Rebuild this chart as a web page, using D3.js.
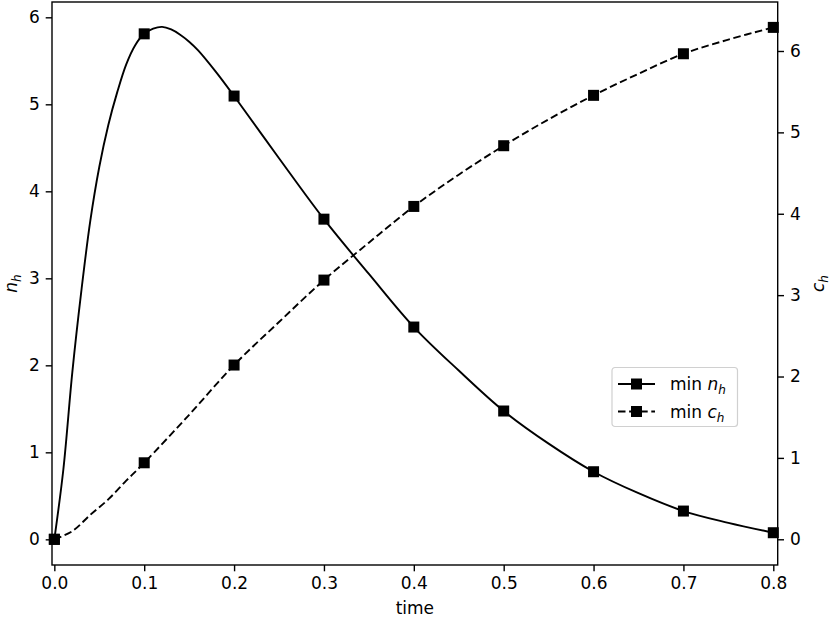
<!DOCTYPE html>
<html>
<head>
<meta charset="utf-8">
<script src="https://cdn.jsdelivr.net/npm/d3@7"></script>
<style>
	body{margin:0;background:#fff;}
	svg{display:block;font-family:'DejaVu Sans',sans-serif;}
	.axis text{font-size:17px;fill:#000;font-family:'DejaVu Sans',sans-serif;}
	.axis path,.axis line{stroke:#000;}
</style>
</head>
<body>
<svg id="chart" width="830" height="623"></svg>
<script>
/* values */
const nTime = [0,0.01,0.02,0.03,0.04,0.05,0.06,0.07,0.08,0.09,0.1,0.11,0.12,0.13,0.14,0.15,0.16,0.18,0.2,0.25,0.3,0.35,0.4,0.45,0.5,0.55,0.6,0.65,0.7,0.75,0.8]
const nVal  = [0,0.80,1.92,2.85,3.66,4.28,4.76,5.14,5.46,5.68,5.81,5.87,5.89,5.86,5.80,5.72,5.62,5.37,5.095,4.38,3.68,3.05,2.44,1.94,1.475,1.10,0.777,0.53,0.325,0.19,0.076]

const cTime = [0,0.02,0.04,0.06,0.08,0.1,0.15,0.2,0.25,0.3,0.35,0.4,0.45,0.5,0.55,0.6,0.65,0.7,0.75,0.8]
const cVal  = [0,0.10,0.30,0.49,0.72,0.94,1.53,2.141,2.67,3.185,3.645,4.09,4.48,4.836,5.16,5.455,5.72,5.966,6.14,6.29]

const markTimes = [0,0.1,0.2,0.3,0.4,0.5,0.6,0.7,0.8]
const xTicks = [0,0.1,0.2,0.3,0.4,0.5,0.6,0.7,0.8]
const nTicks = [0,1,2,3,4,5,6]
const cTicks = [0,1,2,3,4,5,6]

let margin = {top:2,left:52,right:52.3,bottom:58}
let width = 830 - margin.left - margin.right
let height = 623 - margin.top - margin.bottom

const xScale = d3.scaleLinear().domain([-0.0026,0.8049]).range([0,width])
const yN = d3.scaleLinear().domain([-0.295,6.176]).range([height,0])
const yC = d3.scaleLinear().domain([-0.316,6.602]).range([height,0])

const container = d3.select('#chart')
const chart = container.append('g').attr('transform',`translate(${margin.left},${margin.top})`)

const nData = nTime.map((t,i)=>({t:t,v:nVal[i]}))
const cData = cTime.map((t,i)=>({t:t,v:cVal[i]}))
const isMark = d => markTimes.some(m => Math.abs(m-d.t) < 1e-9)

const lineN = d3.line().x(d=>xScale(d.t)).y(d=>yN(d.v)).curve(d3.curveCatmullRom.alpha(0.5))
const lineC = d3.line().x(d=>xScale(d.t)).y(d=>yC(d.v)).curve(d3.curveCatmullRom.alpha(0.5))

chart.append('path').datum(nData)
	.attr('d',lineN).attr('fill','none').attr('stroke','#000').attr('stroke-width',1.9)

chart.append('path').datum(cData)
	.attr('d',lineC).attr('fill','none').attr('stroke','#000').attr('stroke-width',1.9)
	.attr('stroke-dasharray','7.5,3.6')

const ms = 11
chart.selectAll('.mk_n').data(nData.filter(isMark)).enter().append('rect')
	.classed('mk_n',true)
	.attr('x',d=>xScale(d.t)-ms/2).attr('y',d=>yN(d.v)-ms/2)
	.attr('width',ms).attr('height',ms).attr('fill','#000')

chart.selectAll('.mk_c').data(cData.filter(isMark)).enter().append('rect')
	.classed('mk_c',true)
	.attr('x',d=>xScale(d.t)-ms/2).attr('y',d=>yC(d.v)-ms/2)
	.attr('width',ms).attr('height',ms).attr('fill','#000')

/* axes */
const axisX = chart.append('g').classed('axis',true)
	.attr('transform',`translate(0,${height})`)
	.call(d3.axisBottom(xScale).tickValues(xTicks).tickFormat(d3.format('.1f')).tickSizeInner(6.3).tickSizeOuter(0).tickPadding(6))

const axisL = chart.append('g').classed('axis',true)
	.call(d3.axisLeft(yN).tickValues(nTicks).tickFormat(d3.format('d')).tickSizeInner(6.3).tickSizeOuter(0).tickPadding(6))

const axisR = chart.append('g').classed('axis',true)
	.attr('transform',`translate(${width},0)`)
	.call(d3.axisRight(yC).tickValues(cTicks).tickFormat(d3.format('d')).tickSizeInner(6.3).tickSizeOuter(0).tickPadding(6))

chart.selectAll('.axis path').remove()
chart.selectAll('.axis line').attr('stroke-width',1.4)

/* frame */
chart.append('rect').attr('x',0).attr('y',0).attr('width',width).attr('height',height)
	.attr('fill','none').attr('stroke','#000').attr('stroke-width',1.4)

/* labels */
chart.append('text').text('time')
	.attr('x',width/2).attr('y',height+49).attr('text-anchor','middle')
	.attr('font-size',17)

const mathLabel = (sel,base,sub)=>{
	sel.append('tspan').text(base).attr('font-style','italic')
	sel.append('tspan').text(sub).attr('font-style','italic').attr('font-size',12).attr('dy',4)
}

const ylabN = chart.append('text').attr('font-size',17).attr('text-anchor','middle')
	.attr('transform',`translate(-35,${height/2}) rotate(-90)`)
mathLabel(ylabN,'n','h')

const ylabC = chart.append('text').attr('font-size',17).attr('text-anchor','middle')
	.attr('transform',`translate(${width+46},${height/2}) rotate(-90)`)
mathLabel(ylabC,'c','h')

/* legend */
const legend = chart.append('g').attr('transform',`translate(${612-margin.left},${367.5-margin.top})`)
legend.append('rect').attr('width',125.5).attr('height',59).attr('rx',3)
	.attr('fill','#fff').attr('fill-opacity',0.8).attr('stroke','#d0d0d0').attr('stroke-width',1.2)

const items = [{name:'n',dash:null},{name:'c',dash:'7.5,3.6'}]
items.forEach((it,i)=>{
	let yy = 16.5 + i*27.5
	legend.append('line').attr('x1',6).attr('x2',43).attr('y1',yy).attr('y2',yy)
		.attr('stroke','#000').attr('stroke-width',1.9).attr('stroke-dasharray',it.dash)
	legend.append('rect').attr('x',24.5-ms/2).attr('y',yy-ms/2).attr('width',ms).attr('height',ms).attr('fill','#000')
	const t = legend.append('text').attr('x',58).attr('y',yy+6).attr('font-size',17)
	t.append('tspan').text('min ')
	mathLabel(t,it.name,'h')
})
</script>
</body>
</html>
